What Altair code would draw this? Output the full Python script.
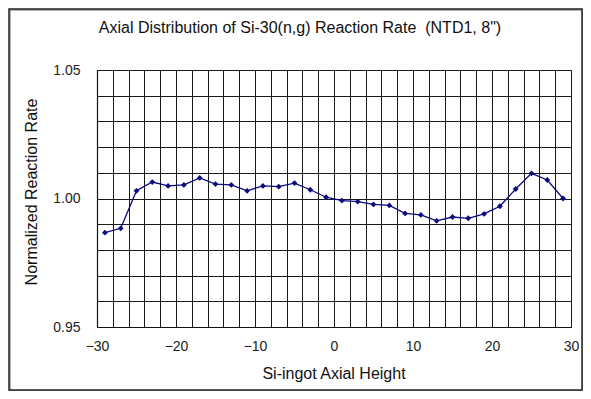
import altair as alt
import pandas as pd

heights = [-29, -27, -25, -23, -21, -19, -17, -15, -13, -11, -9, -7, -5, -3, -1,
           1, 3, 5, 7, 9, 11, 13, 15, 17, 19, 21, 23, 25, 27, 29]
rates = [0.9867, 0.9884, 1.0030, 1.0064, 1.0049, 1.0053, 1.0080, 1.0056, 1.0053, 1.0030,
         1.0049, 1.0046, 1.0060, 1.0034, 1.0005, 0.9992, 0.9988, 0.9977, 0.9973, 0.9942,
         0.9936, 0.9913, 0.9928, 0.9923, 0.9940, 0.9970, 1.0037, 1.0098, 1.0072, 1.0000]
x_ticks = list(range(-30, 31, 2))
y_ticks = [round(0.95 + 0.01 * i, 2) for i in range(11)]

title_text = 'Axial Distribution of Si-30(n,g) Reaction Rate \u00a0(NTD1, 8")'
x_title = "Si-ingot Axial Height"
y_title = "Normalized Reaction Rate"

df = pd.DataFrame({"h": heights, "r": rates})
one = pd.DataFrame({"t": [title_text], "xt": [x_title], "yt": [y_title]})

FONT = "Liberation Sans"

x_enc = alt.X("h:Q", scale=alt.Scale(domain=[-30, 30], nice=False, zero=False),
              axis=alt.Axis(values=x_ticks, tickCount=200, title=None, ticks=False, grid=True,
                            labelExpr="datum.value % 10 == 0 ? format(datum.value, 'd') : ''",
                            labelOverlap=False,
                            labelPadding=12, labelFontSize=14, labelFont=FONT,
                            labelColor="#222", domainColor="#111", labelFlush=False))
y_enc = alt.Y("r:Q", scale=alt.Scale(domain=[0.95, 1.05], nice=False, zero=False),
              axis=alt.Axis(values=y_ticks, tickCount=200, title=None, ticks=False, grid=True,
                            labelExpr="abs(round(datum.value*100) % 5) == 0 ? format(datum.value, '.2f') : ''",
                            labelOverlap=False,
                            labelPadding=17, labelFontSize=14, labelFont=FONT,
                            labelColor="#222", domainColor="#111"))

line = alt.Chart(df).mark_line(color="#0a0a80", strokeWidth=1.3).encode(x=x_enc, y=y_enc)
pts = alt.Chart(df).mark_point(shape="diamond", filled=True, color="#0a0a80", size=34, opacity=1).encode(x="h:Q", y="r:Q")

frame_shadow = alt.Chart(one).mark_rect(fillOpacity=0, stroke="#999", strokeWidth=1.5, clip=False).encode(
    x=alt.value(-87), x2=alt.value(486), y=alt.value(-60), y2=alt.value(321))
frame = alt.Chart(one).mark_rect(fillOpacity=0, stroke="#222", strokeWidth=1.5, clip=False).encode(
    x=alt.value(-88), x2=alt.value(485), y=alt.value(-61), y2=alt.value(320))

ttl = alt.Chart(one).mark_text(font=FONT, fontSize=16, color="#111", align="center", baseline="middle").encode(
    text="t:N", x=alt.value(203), y=alt.value(-42))
xt = alt.Chart(one).mark_text(font=FONT, fontSize=16, color="#111", align="center", baseline="middle").encode(
    text="xt:N", x=alt.value(237), y=alt.value(304))
yt = alt.Chart(one).mark_text(font=FONT, fontSize=16, color="#111", align="center", baseline="middle", angle=270).encode(
    text="yt:N", x=alt.value(-65), y=alt.value(122))

chart = alt.layer(frame_shadow, frame, line, pts, ttl, xt, yt).properties(
    width=474, height=257,
    padding={"left": 89, "top": 62, "right": 12, "bottom": 64},
    autosize=alt.AutoSizeParams(type="none"),
    background="white",
).configure_view(stroke="#333", strokeWidth=1).configure_axis(
    gridColor="#1a1a1a", gridOpacity=1, gridWidth=1, domainWidth=1.2
)

chart.save("out.html", embed_options={"renderer": "svg", "actions": False})
